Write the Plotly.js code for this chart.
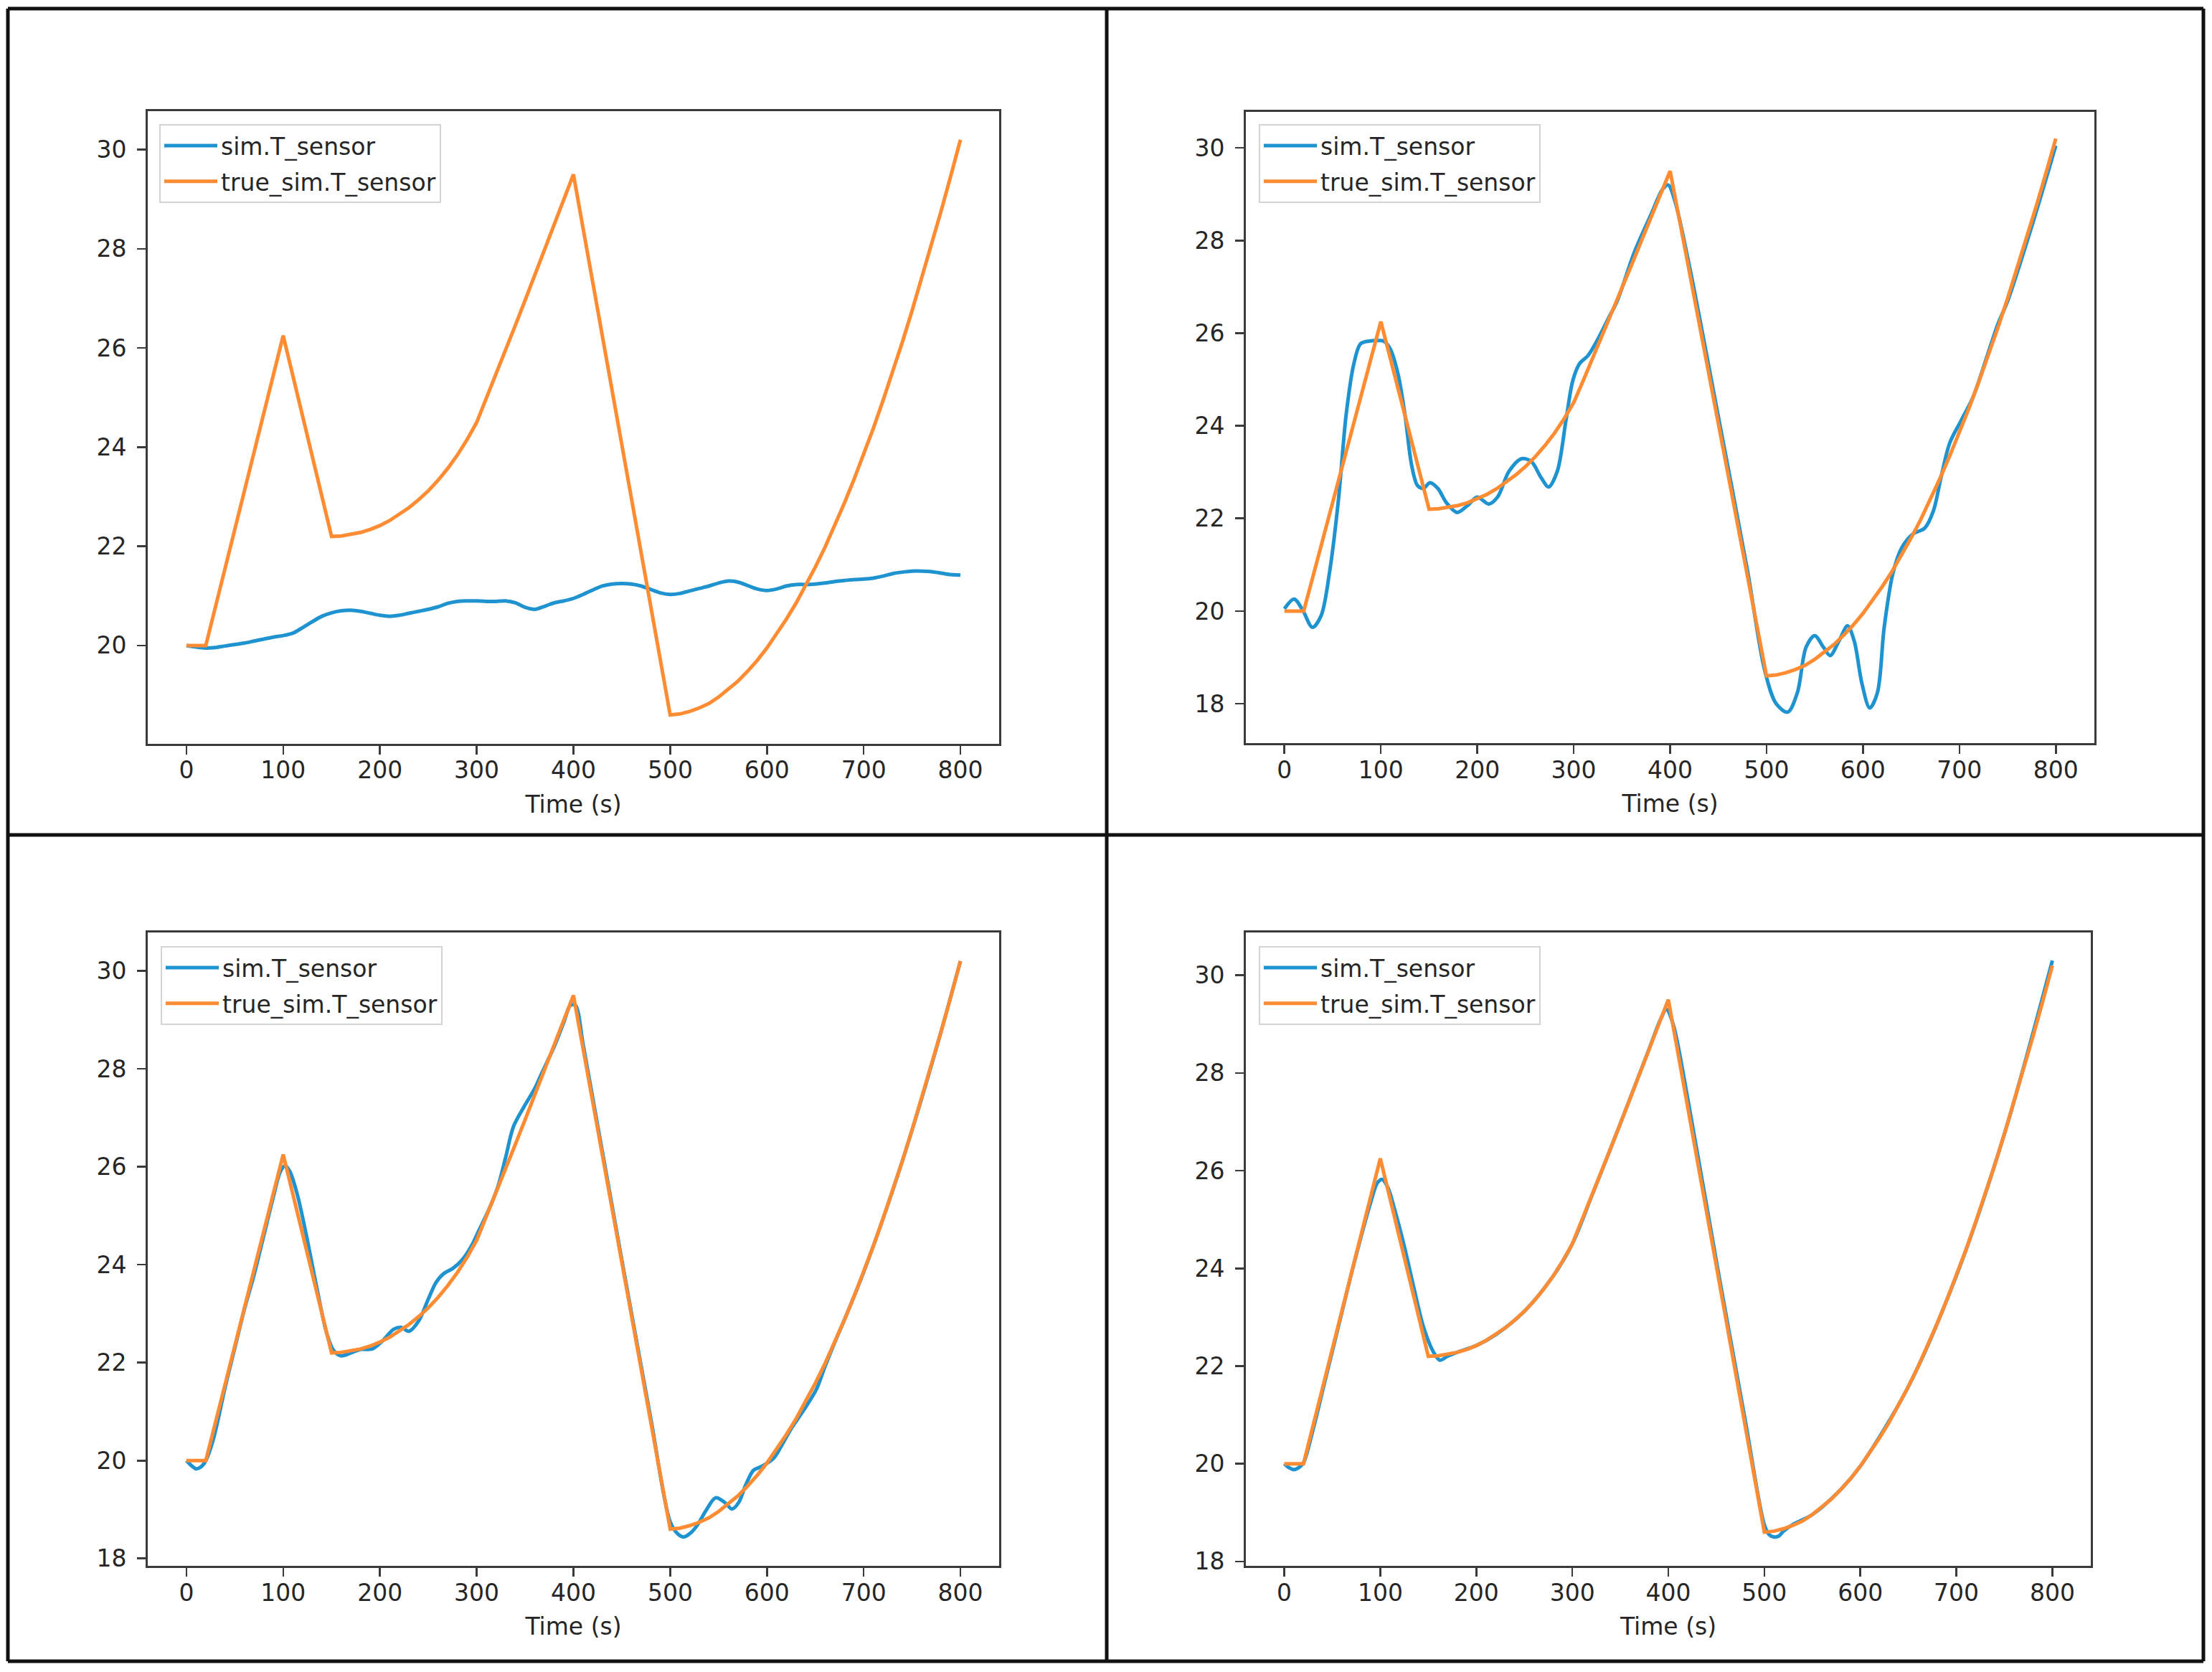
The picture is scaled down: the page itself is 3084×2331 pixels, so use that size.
<!DOCTYPE html>
<html>
<head>
<meta charset="utf-8">
<script src="https://cdn.plot.ly/plotly-3.0.1.min.js"></script>
<style>html,body{margin:0;padding:0;background:#fff;}#chart{width:3084px;height:2331px;}</style>
</head>
<body>
<div id="chart"></div>
<script>
// ---------- data ----------
const seriesNames = ["sim.T_sensor", "true_sim.T_sensor"];
const xTickVals = [0, 100, 200, 300, 400, 500, 600, 700, 800];
const yTickVals = [18, 20, 22, 24, 26, 28, 30];
const xLabel = "Time (s)";

// true signal (same in every panel), 10 s steps
const trueTime = [0,10,20,30,40,50,60,70,80,90,100,110,120,130,140,150,160,170,180,190,200,210,220,230,240,250,260,270,280,290,300,310,320,330,340,350,360,370,380,390,400,410,420,430,440,450,460,470,480,490,500,510,520,530,540,550,560,570,580,590,600,610,620,630,640,650,660,670,680,690,700,710,720,730,740,750,760,770,780,790,800];
const trueTemp = [20.0,20.0,20.0,20.78,21.56,22.34,23.13,23.91,24.69,25.47,26.25,25.44,24.63,23.82,23.01,22.2,22.21,22.24,22.28,22.34,22.42,22.52,22.64,22.78,22.94,23.12,23.33,23.57,23.84,24.15,24.5,24.98,25.47,25.96,26.46,26.96,27.47,27.98,28.49,29.0,29.5,28.41,27.32,26.23,25.14,24.05,22.96,21.87,20.78,19.69,18.6,18.62,18.67,18.74,18.83,18.96,19.11,19.28,19.48,19.70,19.95,20.23,20.53,20.85,21.21,21.58,21.98,22.41,22.87,23.35,23.85,24.38,24.94,25.52,26.12,26.75,27.40,28.07,28.76,29.47,30.2];

// panel 1 (top left) simulated sensor
const simTimeA = [0,10,20,30,40,50,60,70,80,90,100,110,120,130,140,150,160,170,180,190,200,210,220,230,240,250,260,270,280,290,300,310,320,330,340,350,360,370,380,390,400,410,420,430,440,450,460,470,480,490,500,510,520,530,540,550,560,570,580,590,600,610,620,630,640,650,660,670,680,690,700,710,720,730,740,750,760,770,780,790,800];
const simTempA = [20.0,19.97,19.95,19.96,19.99,20.02,20.05,20.09,20.13,20.17,20.2,20.25,20.36,20.48,20.59,20.66,20.7,20.71,20.69,20.65,20.61,20.59,20.61,20.65,20.69,20.73,20.78,20.85,20.89,20.9,20.9,20.89,20.89,20.9,20.86,20.77,20.73,20.79,20.86,20.9,20.95,21.03,21.12,21.2,21.24,21.25,21.24,21.2,21.13,21.06,21.03,21.05,21.1,21.15,21.2,21.26,21.3,21.28,21.21,21.14,21.11,21.14,21.2,21.23,21.23,21.24,21.26,21.29,21.31,21.33,21.34,21.36,21.4,21.45,21.48,21.5,21.5,21.49,21.46,21.43,21.42];

// panel 2 (top right)
const simTimeB = [0,10,19,29,38,47,56,64,72,79,88,96,103,110,118,125,132,138,144,151,159,168,179,190,200,212,221,233,246,256,266,274,283,292,299,306,315,324,336,345,363,381,392,398,405,420,450,480,498,510,522,532,541,550,559,566,575,584,591,599,607,615,622,631,640,652,664,673,681,690,702,714,729,740,750,775,800];
const simTempB = [20.05,20.26,20.02,19.65,19.9,20.87,22.4,24.24,25.34,25.77,25.83,25.84,25.83,25.65,25.1,24.24,23.14,22.71,22.65,22.77,22.65,22.34,22.13,22.28,22.46,22.31,22.46,23.02,23.29,23.23,22.89,22.68,23.02,24.12,24.97,25.34,25.52,25.83,26.32,26.69,27.75,28.6,29.1,29.2,28.85,27.45,24.2,20.9,18.73,18.0,17.82,18.24,19.22,19.47,19.22,19.04,19.35,19.68,19.35,18.43,17.91,18.24,19.65,20.81,21.36,21.67,21.79,22.16,22.89,23.63,24.12,24.61,25.52,26.2,26.69,28.3,30.05];

// panel 3 (bottom left)
const simTimeC = [0,5,10,15,20,28,40,50,60,70,80,90,97,102,107,115,125,135,145,152,160,170,180,192,203,214,222,230,240,250,258,266,275,285,295,302,312,322,330,338,349,360,367,380,390,397,402,410,420,450,480,500,508,514,521,528,537,547,556,564,571,578,586,591,598,607,615,625,637,651,660,670,680,700,720,740,760,780,800];
const simTempC = [20.0,19.9,19.83,19.87,20.0,20.45,21.5,22.3,23.1,23.8,24.6,25.4,25.9,26.02,25.9,25.4,24.5,23.5,22.6,22.25,22.14,22.2,22.27,22.28,22.45,22.68,22.72,22.64,22.85,23.3,23.64,23.82,23.92,24.1,24.4,24.69,25.1,25.6,26.2,26.82,27.23,27.6,27.9,28.45,28.95,29.3,29.3,28.5,27.4,24.1,20.85,18.75,18.5,18.44,18.52,18.68,18.98,19.24,19.15,19.01,19.15,19.5,19.8,19.85,19.92,20.05,20.3,20.65,21.0,21.45,21.92,22.41,22.87,23.85,24.94,26.12,27.4,28.76,30.2];

// panel 4 (bottom right)
const simTimeD = [0,5,10,15,20,30,40,50,60,70,80,90,97,102,108,115,125,135,145,155,162,170,180,200,220,250,280,300,320,340,360,380,392,398,405,420,450,480,500,505,510,515,520,530,550,580,600,650,700,750,800];
const simTempD = [20.0,19.92,19.88,19.92,20.02,20.7,21.5,22.3,23.1,23.9,24.65,25.35,25.75,25.82,25.65,25.2,24.45,23.6,22.8,22.3,22.12,22.2,22.28,22.42,22.64,23.12,23.84,24.5,25.47,26.46,27.47,28.49,29.1,29.3,29.0,27.5,24.15,20.9,18.75,18.55,18.5,18.52,18.62,18.76,18.96,19.48,19.95,21.58,23.85,26.75,30.3];

// ---------- styling ----------
const FONT = "DejaVu Sans";
const BLUE = "#1f93cf";
const ORANGE = "#ff8c33";
const W = 3084, H = 2331;
const px = v => v / W;
const py = v => 1 - v / H;

const panels = [
  {sx: "x",  sy: "y",  lg: "legend",  t: simTimeA, v: simTempA, xd: [206, 1393], yd: [154.7, 1036.8], yr: [18.02, 30.78], lgx: 222, lgy: 173},
  {sx: "x2", sy: "y2", lg: "legend2", t: simTimeB, v: simTempB, xd: [1737, 2920], yd: [155.8, 1036], yr: [17.15, 30.78], lgx: 1755, lgy: 173},
  {sx: "x3", sy: "y3", lg: "legend3", t: simTimeC, v: simTempC, xd: [206, 1393], yd: [1299.7, 2183], yr: [17.85, 30.79], lgx: 224, lgy: 1319},
  {sx: "x4", sy: "y4", lg: "legend4", t: simTimeD, v: simTempD, xd: [1737, 2915], yd: [1300.4, 2183], yr: [17.91, 30.87], lgx: 1755, lgy: 1319}
];

const traces = [];
const layout = {
  width: W, height: H,
  margin: {l: 0, r: 0, t: 0, b: 0},
  paper_bgcolor: "#ffffff",
  plot_bgcolor: "#ffffff",
  font: {family: FONT, size: 33, color: "#262626"},
  showlegend: true,
  shapes: []
};

panels.forEach((p, i) => {
  traces.push({
    type: "scatter", mode: "lines", name: seriesNames[0],
    x: p.t, y: p.v, xaxis: p.sx, yaxis: p.sy, legend: p.lg, legendgroup: "sim" + i,
    line: {color: BLUE, width: 5, shape: "spline", smoothing: 0.9}
  });
  traces.push({
    type: "scatter", mode: "lines", name: seriesNames[1],
    x: trueTime, y: trueTemp, xaxis: p.sx, yaxis: p.sy, legend: p.lg, legendgroup: "true" + i,
    line: {color: ORANGE, width: 5}
  });
  const suf = i === 0 ? "" : String(i + 1);
  const axCommon = {
    showgrid: false, zeroline: false, showline: true, mirror: true,
    linecolor: "#3a3a3a", linewidth: 3,
    ticks: "outside", ticklen: 12, tickwidth: 2.6, tickcolor: "#3a3a3a",
    tickfont: {family: FONT, size: 33, color: "#262626"},
    automargin: false
  };
  layout["xaxis" + suf] = Object.assign({}, axCommon, {
    domain: [px(p.xd[0]), px(p.xd[1])],
    anchor: p.sy, range: [-40, 840],
    tickmode: "array", tickvals: xTickVals,
    ticklabelstandoff: -6,
    title: {text: xLabel, font: {family: FONT, size: 33, color: "#262626"}, standoff: 18}
  });
  layout["yaxis" + suf] = Object.assign({}, axCommon, {
    domain: [py(p.yd[1]), py(p.yd[0])],
    anchor: p.sx, range: p.yr,
    tickmode: "array", tickvals: yTickVals,
    ticklabelstandoff: 8
  });
  layout[p.lg] = {
    x: px(p.lgx), y: py(p.lgy), xanchor: "left", yanchor: "top",
    xref: "paper", yref: "paper",
    bgcolor: "rgba(255,255,255,0.85)", bordercolor: "#d4d4d4", borderwidth: 2,
    font: {family: FONT, size: 33, color: "#262626"},
    itemwidth: 74, tracegroupgap: 4, traceorder: "grouped"
  };
});

// outer frame and panel dividers
const frame = {x0: 11, x1: 3072, y0: 12, y1: 2316, xm: 1543, ym: 1164};
const lineStyle = {color: "#111111", width: 5};
[
  [frame.x0, frame.y0, frame.x1, frame.y0],
  [frame.x0, frame.y1, frame.x1, frame.y1],
  [frame.x0, frame.y0, frame.x0, frame.y1],
  [frame.x1, frame.y0, frame.x1, frame.y1],
  [frame.xm, frame.y0, frame.xm, frame.y1],
  [frame.x0, frame.ym, frame.x1, frame.ym]
].forEach(s => {
  layout.shapes.push({type: "line", xref: "paper", yref: "paper",
    x0: px(s[0]), y0: py(s[1]), x1: px(s[2]), y1: py(s[3]), line: lineStyle});
});

Plotly.newPlot("chart", traces, layout, {staticPlot: true, displayModeBar: false});
</script>
</body>
</html>
